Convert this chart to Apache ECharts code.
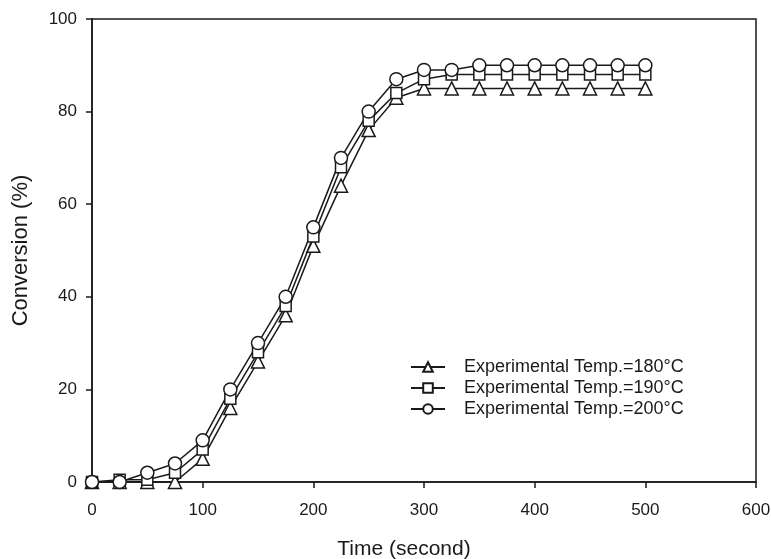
<!DOCTYPE html>
<html>
<head>
<meta charset="utf-8">
<script src="https://cdn.jsdelivr.net/npm/echarts@6/dist/echarts.min.js"></script>
<style>html,body{margin:0;padding:0;background:#fff}#c{width:771px;height:559px}</style>
</head>
<body>
<div id="c"></div>
<script>
var times = [0,25,50,75,100,125,150,175,200,225,250,275,300,325,350,375,400,425,450,475,500];
var conv180 = [0,0,0,0,5,16,26,36,51,64,76,83,85,85,85,85,85,85,85,85,85];
var conv190 = [0,0.5,0.5,2,7,18,28,38,53,68,78,84,87,88,88,88,88,88,88,88,88];
var conv200 = [0,0,2,4,9,20,30,40,55,70,80,87,89,89,90,90,90,90,90,90,90];
var seriesNames = ['Experimental Temp.=180°C','Experimental Temp.=190°C','Experimental Temp.=200°C'];
var xTitle = 'Time (second)';
var yTitle = 'Conversion (%)';

function pairs(v){ return times.map(function(t,i){ return [t, v[i]]; }); }
var font = 'Liberation Sans, Arial, sans-serif';
var ink = '#1a1a1a';
function mk(name, data, symbol, size){
  return {
    name: name, type: 'line', data: pairs(data), symbol: symbol, symbolSize: size,
    showAllSymbol: true,
    lineStyle: {color: ink, width: 1.5},
    itemStyle: {color: '#fff', borderColor: ink, borderWidth: 1.5},
    emphasis: {disabled: true}, animation: false
  };
}
var chart = echarts.init(document.getElementById('c'), null, {renderer: 'canvas'});
chart.setOption({
  backgroundColor: '#fff',
  animation: false,
  grid: {left: 92, top: 19, right: 15, bottom: 77, outerBoundsMode: 'none', containLabel: false,
         show: true, borderColor: ink, borderWidth: 1.5, backgroundColor: 'transparent'},
  xAxis: {
    type: 'value', min: 0, max: 600, interval: 100,
    name: xTitle, nameLocation: 'middle', nameGap: 57,
    nameTextStyle: {fontFamily: font, fontSize: 21, color: ink, padding: [0, 40, 0, 0]},
    axisLine: {lineStyle: {color: ink, width: 1.5}},
    axisTick: {show: true, inside: false, length: 6, lineStyle: {color: ink, width: 1.5}},
    axisLabel: {fontFamily: font, fontSize: 17, color: ink, margin: 20},
    splitLine: {show: false}
  },
  yAxis: {
    type: 'value', min: 0, max: 100, interval: 20,
    name: yTitle, nameLocation: 'middle', nameGap: 60, nameRotate: 90,
    nameTextStyle: {fontFamily: font, fontSize: 22, color: ink},
    axisLine: {show: true, lineStyle: {color: ink, width: 1.5}},
    axisTick: {show: true, inside: false, length: 6, lineStyle: {color: ink, width: 1.5}},
    axisLabel: {fontFamily: font, fontSize: 17, color: ink, margin: 15},
    splitLine: {show: false}
  },
  legend: {
    orient: 'vertical', left: 405, top: 353,
    itemWidth: 34, itemHeight: 12, itemGap: 3,
    textStyle: {fontFamily: font, fontSize: 18, color: ink, padding: [0, 0, 0, 14]},
    data: seriesNames
  },
  series: [
    mk(seriesNames[0], conv180, 'triangle', 13),
    mk(seriesNames[1], conv190, 'rect', 11),
    mk(seriesNames[2], conv200, 'circle', 13)
  ]
});
</script>
</body>
</html>
